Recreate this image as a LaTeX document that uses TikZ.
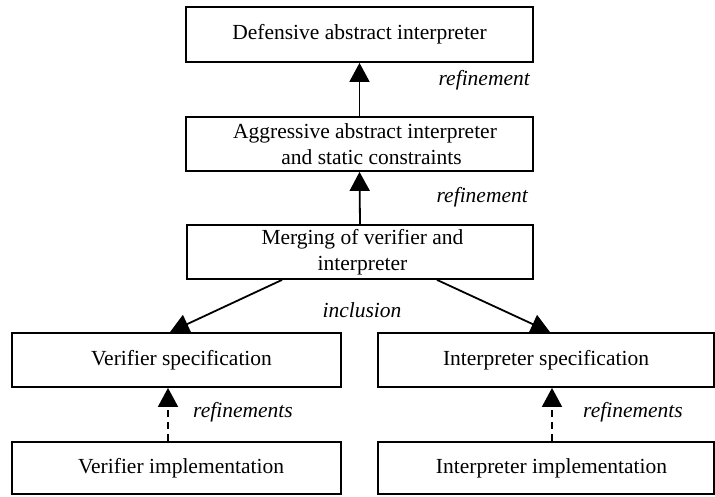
\documentclass[tikz,border=0pt]{standalone}
\usepackage{fontspec}
\setmainfont{Liberation Serif}
\usetikzlibrary{arrows.meta}
\begin{document}
\begin{tikzpicture}[x=1pt,y=-1pt,
  box/.style={draw, line width=1.8pt, inner sep=0pt, align=center,
    font=\fontsize{21.5}{25.5}\selectfont},
  lbl/.style={font=\fontsize{21.5}{25.5}\selectfont\itshape, inner sep=0pt},
  arr/.style={line width=1.8pt, -{Triangle[length=19pt,width=20pt]}},
  dsh/.style={dash pattern=on 7pt off 5pt}]
\useasboundingbox (0,0) rectangle (715,496);
\node[box, minimum width=347pt, minimum height=55pt] (def) at (359.5,34.5) {Defensive abstract interpreter};
\node[box, minimum width=347pt, minimum height=54pt] (agg) at (359.5,144) {\hspace*{11pt}Aggressive abstract interpreter\\\hspace*{24pt}and static constraints};
\node[box, minimum width=346pt, minimum height=54pt] (mrg) at (360,252) {\hspace*{5pt}Merging of verifier and\\\hspace*{5pt}interpreter};
\node[box, minimum width=329pt, minimum height=54pt] (vs) at (176.5,360) {\hspace*{10pt}Verifier specification};
\node[box, minimum width=336pt, minimum height=54pt] (is) at (546,360) {Interpreter specification};
\node[box, minimum width=329pt, minimum height=52pt] (vi) at (176.5,468) {\hspace*{9pt}Verifier implementation};
\node[box, minimum width=336pt, minimum height=52pt] (ii) at (546,468) {\hspace*{11pt}Interpreter implementation};
\node[lbl, anchor=east] (r1) at (530,80) {refinement};
\node[lbl, anchor=east] (r2) at (528,197) {refinement};
\node[lbl] (inc) at (362,310) {inclusion};
\node[lbl, anchor=west] (r3) at (193,412) {refinements};
\node[lbl, anchor=west] (r4) at (583,412) {refinements};
\draw[arr] (agg.north) -- (def.south);
\draw[arr] (mrg.north) -- (agg.south);
\draw[arr] ([xshift=-78pt]mrg.south) -- ([xshift=-6.5pt]vs.north);
\draw[arr] ([xshift=77pt]mrg.south) -- ([xshift=4pt]is.north);
\draw[arr, dsh] ([xshift=-8.5pt]vi.north) -- ([xshift=-8.5pt]vs.south);
\draw[arr, dsh] ([xshift=6pt]ii.north) -- ([xshift=6pt]is.south);
\end{tikzpicture}
\end{document}
